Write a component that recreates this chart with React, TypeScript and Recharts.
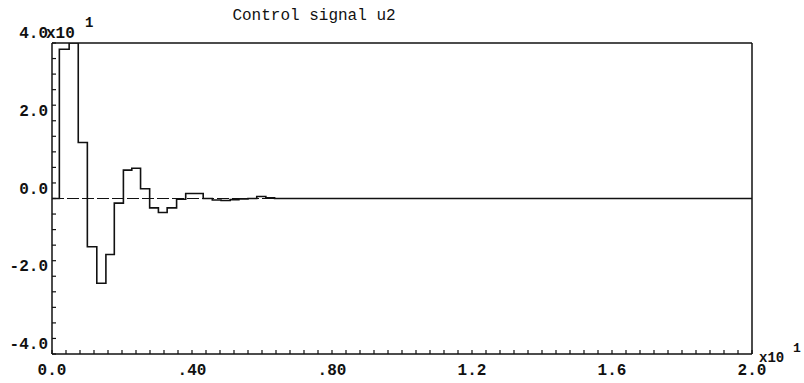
import React from 'react';
import { LineChart, Line, XAxis, YAxis, ReferenceLine } from 'recharts';

// step start times, in axis units (x10^1)
const stepTimes = [
  0, 0.021, 0.049, 0.075, 0.101, 0.128, 0.154, 0.178, 0.204, 0.228, 0.253, 0.279, 0.304,
  0.329, 0.356, 0.382, 0.407, 0.432, 0.458, 0.483, 0.509, 0.534, 0.56, 0.585, 0.611, 0.636, 2.0,
];
// control signal u2 held over each step (x10^1)
const u2Values = [
  0, 3.84, 4.0, 1.44, -1.24, -2.18, -1.44, -0.12, 0.73, 0.78, 0.25, -0.24, -0.36,
  -0.24, -0.02, 0.13, 0.13, 0.0, -0.04, -0.05, -0.03, -0.01, 0.0, 0.05, 0.02, 0.0, 0.0,
];

const xTickLabels = ['0.0', '.40', '.80', '1.2', '1.6', '2.0'];
const yTickLabels = ['-4.0', '-2.0', '0.0', '2.0', '4.0'];

const xTicks = Array.from({ length: 51 }, (_, i) => +(i * 0.04).toFixed(2));
const yTicks = Array.from({ length: 21 }, (_, i) => +(-4 + i * 0.4).toFixed(1));

const data = stepTimes.map((t, i) => ({ t, u2: u2Values[i] }));

const FONT = "'Liberation Mono', 'DejaVu Sans Mono', monospace";
const INK = '#111';

const isMajor = (v: number, step: number) => Math.abs(v / step - Math.round(v / step)) < 1e-6;

const XTick = (props: any) => {
  const { x, y, payload } = props;
  const v = payload.value;
  const major = isMajor(v, 0.4);
  return (
    <g>
      <line x1={x} x2={x} y1={y} y2={y - 4} stroke={INK} strokeWidth={1.2} />
      {major && (
        <text x={x} y={y + 21} textAnchor="middle" fontFamily={FONT} fontSize={16} fontWeight="bold" fill={INK}>
          {xTickLabels[Math.round(v / 0.4)]}
        </text>
      )}
    </g>
  );
};

const YTick = (props: any) => {
  const { x, y, payload } = props;
  const v = payload.value;
  const major = isMajor(v, 2);
  return (
    <g>
      <line x1={x} x2={x + 4} y1={y} y2={y} stroke={INK} strokeWidth={1.2} />
      {major && (
        <text x={x - 4} y={y - 5} textAnchor="end" fontFamily={FONT} fontSize={16} fontWeight="bold" fill={INK}>
          {yTickLabels[Math.round((v + 4) / 2)]}
        </text>
      )}
    </g>
  );
};

export default function App() {
  return (
    <div style={{ position: 'absolute', left: 0, top: 0, width: 804, height: 383, background: '#fff' }}>
      <LineChart width={804} height={383} data={data} margin={{ top: 43, right: 52, bottom: 0, left: 0 }}>
        <XAxis
          dataKey="t"
          type="number"
          domain={[0, 2]}
          ticks={xTicks}
          interval={0}
          tickSize={0}
          tickMargin={0}
          tickLine={false}
          tick={<XTick />}
          height={29}
          axisLine={{ stroke: INK, strokeWidth: 1.5 }}
        />
        <YAxis
          type="number"
          domain={[-4, 4]}
          allowDataOverflow
          ticks={yTicks}
          interval={0}
          tickSize={0}
          tickMargin={0}
          tickLine={false}
          tick={<YTick />}
          width={52}
          axisLine={{ stroke: INK, strokeWidth: 1.5 }}
        />
        <ReferenceLine y={4} stroke={INK} strokeWidth={1.5} />
        <ReferenceLine x={2} stroke={INK} strokeWidth={1.5} />
        <ReferenceLine y={0} stroke={INK} strokeWidth={1.2} strokeDasharray="12 3" />
        <Line
          type="stepAfter"
          dataKey="u2"
          stroke={INK}
          strokeWidth={1.6}
          dot={false}
          isAnimationActive={false}
        />
      </LineChart>
      <svg
        width={804}
        height={383}
        style={{ position: 'absolute', left: 0, top: 0, pointerEvents: 'none' }}
      >
        <text x={314} y={20} textAnchor="middle" fontFamily={FONT} fontSize={16} fill={INK}>
          Control signal u2
        </text>
        <text x={46} y={38} fontFamily={FONT} fontSize={16} fontWeight="bold" fill={INK}>
          x10
        </text>
        <text x={85} y={27} fontFamily={FONT} fontSize={14} fontWeight="bold" fill={INK}>
          1
        </text>
        <text x={759} y={362} fontFamily={FONT} fontSize={14} fontWeight="bold" fill={INK}>
          x10
        </text>
        <text x={793} y={352} fontFamily={FONT} fontSize={13} fontWeight="bold" fill={INK}>
          1
        </text>
      </svg>
    </div>
  );
}
